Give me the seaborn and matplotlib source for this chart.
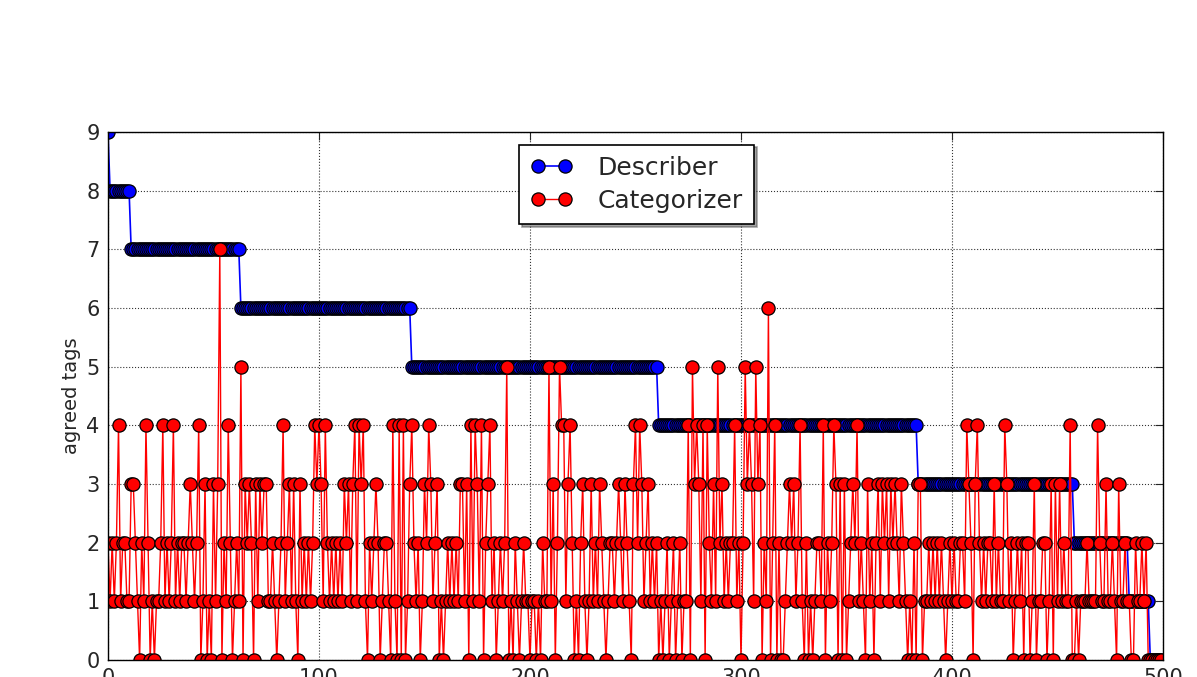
import numpy as np
import pandas as pd
import matplotlib
matplotlib.use("Agg")
import matplotlib.pyplot as plt
import seaborn as sns

# Describer: run-length levels
describer_levels = [9, 8, 7, 6, 5, 4, 3, 2, 1, 0]
describer_counts = [1, 10, 52, 81, 117, 123, 74, 26, 10, 6]

# Categorizer values, in blocks of 10 rounds
categorizer = [
    2,1,2,1,2,4,1,2,2,1,
    1,3,3,2,1,0,2,1,4,2,
    0,1,0,1,1,2,4,1,2,1,
    2,4,1,2,1,2,2,1,2,3,
    2,1,2,4,0,1,3,0,1,0,
    3,1,3,7,0,2,1,4,2,0,
    1,2,1,5,0,3,2,3,2,0,
    3,1,3,2,3,3,1,1,2,1,
    0,1,2,4,1,2,3,1,3,1,
    0,3,1,2,1,2,1,2,4,3,
    4,3,1,4,2,1,2,1,2,1,
    2,1,3,2,3,1,3,4,1,4,
    3,4,1,0,2,1,2,3,2,0,
    1,2,2,1,0,4,1,0,4,0,
    4,0,1,3,4,2,1,2,0,1,
    3,2,4,3,1,2,3,0,1,0,
    1,2,1,2,1,2,1,3,3,1,
    3,0,4,1,4,3,1,4,0,2,
    3,4,1,2,0,1,2,1,2,5,
    0,1,0,2,1,0,1,2,1,1,
    0,1,1,0,1,0,2,1,1,5,
    1,3,0,2,5,4,4,1,3,4,
    2,0,1,0,2,3,1,0,1,3,
    1,2,1,3,2,1,0,1,2,2,
    1,2,3,2,1,3,2,1,0,3,
    4,2,4,3,1,2,3,1,2,1,
    2,0,1,0,1,2,0,1,2,0,
    1,2,0,1,1,4,0,5,3,4,
    3,1,4,0,4,2,1,3,1,5,
    2,3,1,2,1,2,2,4,1,2,
    0,2,5,3,4,3,1,5,3,4,
    0,2,1,6,0,2,4,0,2,0,
    0,1,2,3,2,3,1,2,4,1,
    0,2,0,1,0,1,2,2,1,4,
    0,2,1,2,4,3,0,3,0,3,
    0,1,2,3,2,4,1,2,1,0,
    3,1,2,0,2,3,1,3,2,3,
    1,3,2,3,2,1,3,2,1,0,
    1,0,2,0,3,3,0,1,1,2,
    1,2,1,2,1,2,1,0,1,2,
    1,2,1,1,2,2,1,4,3,2,
    0,3,4,2,1,2,1,2,2,1,
    3,1,2,1,1,4,3,1,2,0,
    1,2,1,2,0,2,2,0,1,3,
    0,1,1,2,2,0,1,3,0,3,
    1,3,1,2,1,1,4,0,0,1,
    0,1,1,1,2,1,1,1,1,4,
    2,1,1,3,1,1,2,1,0,3,
    1,1,2,1,1,0,0,2,1,1,
    2,1,2,0,0,0,0,0,0,0,
]

x_ticks = [0, 100, 200, 300, 400, 500]
y_ticks = [0, 1, 2, 3, 4, 5, 6, 7, 8, 9]

describer = np.repeat(describer_levels, describer_counts)
rounds = np.arange(len(describer))
df = pd.DataFrame({"round": rounds, "Describer": describer,
                   "Categorizer": categorizer})

sns.set_style("white")
plt.rcParams["font.family"] = ["DejaVu Sans"]

fig = plt.figure(figsize=(11.97, 6.77), dpi=100)
ax = fig.add_axes([0.0902, 0.0251, 0.8814, 0.780])

sns.lineplot(data=df, x="round", y="Describer", ax=ax, color="blue",
             marker="o", markersize=9.5, markeredgecolor="black",
             markeredgewidth=0.9, linewidth=1.2, label="Describer",
             estimator=None, sort=False)
sns.lineplot(data=df, x="round", y="Categorizer", ax=ax, color="red",
             marker="o", markersize=9.5, markeredgecolor="black",
             markeredgewidth=0.9, linewidth=1.0, label="Categorizer",
             estimator=None, sort=False)

ax.set_xlim(0, 500)
ax.set_ylim(0, 9)
ax.set_xticks(x_ticks)
ax.set_yticks(y_ticks)
ax.set_xlabel("")
ax.set_ylabel("agreed tags", fontsize=14)
ax.grid(True, color="black", linestyle=":", linewidth=0.8, alpha=0.8)
ax.set_axisbelow(True)
ax.tick_params(axis="both", direction="in", length=6, width=0.8,
               top=True, right=True, labelsize=15, pad=6)
for s in ax.spines.values():
    s.set_color("black")
    s.set_linewidth(1.0)

leg = ax.legend(loc="upper center", bbox_to_anchor=(0.501, 0.976),
                borderaxespad=0, fontsize=18, shadow=True, fancybox=False,
                framealpha=1, edgecolor="black", handlelength=1.7,
                handletextpad=1.0, numpoints=2,
                borderpad=0.45, labelspacing=0.35)
leg.get_frame().set_linewidth(1.2)

fig.savefig("out.png", dpi=100, facecolor="white")
